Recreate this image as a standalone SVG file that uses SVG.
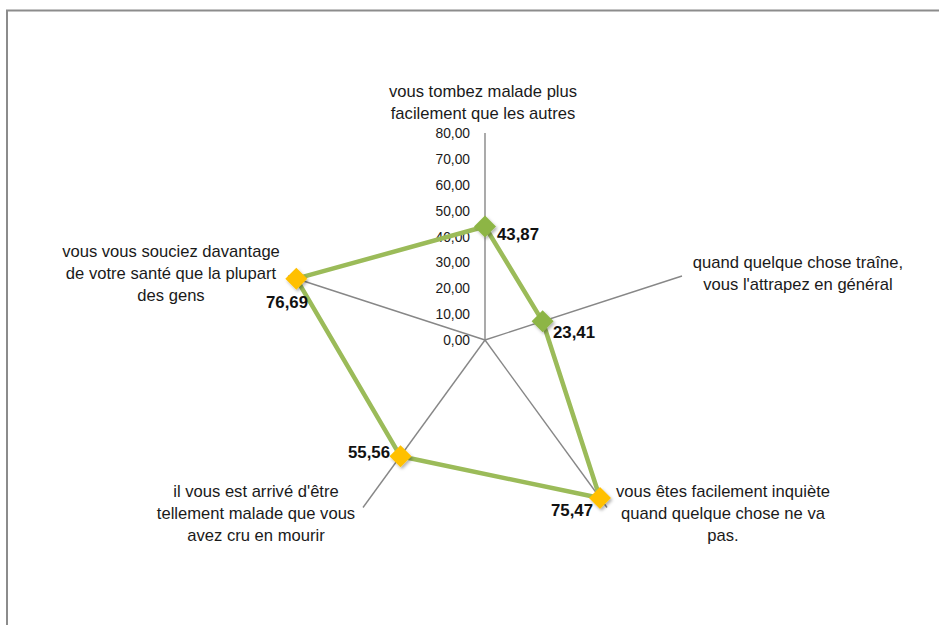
<svg xmlns="http://www.w3.org/2000/svg" width="939" height="625" viewBox="0 0 939 625">
<style>
.lbl{font-family:"Liberation Sans",Arial,sans-serif;font-size:16.6px;fill:#1a1a1a;text-anchor:middle}
.tick{font-family:"Liberation Sans",Arial,sans-serif;font-size:13.8px;fill:#1a1a1a;text-anchor:end}
.val{font-family:"Liberation Sans",Arial,sans-serif;font-size:16.8px;font-weight:bold;fill:#111}
.axis{stroke:#878787;stroke-width:1.4;fill:none}
.series{stroke:#9BBB59;stroke-width:4.5;fill:none;stroke-linejoin:round}
.mg{fill:#8DB545;filter:url(#sh)}
.my{fill:#FFC000;filter:url(#sh)}
</style>
<defs>
<filter id="sh" x="-50%" y="-50%" width="200%" height="200%">
<feDropShadow dx="1.5" dy="2" stdDeviation="1.5" flood-color="#000" flood-opacity="0.3"/>
</filter>
<path id="dia" d="M0,-11 L11,0 L0,11 L-11,0 Z"/>
</defs>
<rect x="0" y="0" width="939" height="625" fill="#fff"/>
<rect x="7" y="10.5" width="1000" height="700" fill="none" stroke="#8c8c8c" stroke-width="2"/>

<g id="axes">
<line class="axis" x1="485" y1="340" x2="485" y2="133"/>
<line class="axis" x1="485" y1="340" x2="682" y2="276"/>
<line class="axis" x1="485" y1="340" x2="607" y2="507.5"/>
<line class="axis" x1="485" y1="340" x2="363" y2="507.5"/>
<line class="axis" x1="485" y1="340" x2="288" y2="276"/>
</g>

<g id="ticks">
<text class="tick" x="470" y="138">80,00</text>
<text class="tick" x="470" y="164">70,00</text>
<text class="tick" x="470" y="190">60,00</text>
<text class="tick" x="470" y="216">50,00</text>
<text class="tick" x="470" y="242">40,00</text>
<text class="tick" x="470" y="267">30,00</text>
<text class="tick" x="470" y="293">20,00</text>
<text class="tick" x="470" y="319">10,00</text>
<text class="tick" x="470" y="345">0,00</text>
</g>

<g id="connectors">
<polygon class="series" points="485,226.5 542.6,321.3 600,498 400.5,456.3 296.3,278.7"/>
</g>

<g id="node-1">
<use href="#dia" class="mg" x="485" y="226.5"/>
<text class="val" x="497" y="240">43,87</text>
<text class="lbl" x="483" y="97">vous tombez malade plus</text>
<text class="lbl" x="483" y="119">facilement que les autres</text>
</g>
<g id="node-2">
<use href="#dia" class="mg" x="542.6" y="321.3"/>
<text class="val" x="553" y="338">23,41</text>
<text class="lbl" x="798" y="268">quand quelque chose traîne,</text>
<text class="lbl" x="798" y="290">vous l'attrapez en général</text>
</g>
<g id="node-3">
<use href="#dia" class="my" x="600" y="498"/>
<text class="val" x="593" y="516" text-anchor="end">75,47</text>
<text class="lbl" x="723" y="497">vous êtes facilement inquiète</text>
<text class="lbl" x="723" y="519">quand quelque chose ne va</text>
<text class="lbl" x="723" y="541">pas.</text>
</g>
<g id="node-4">
<use href="#dia" class="my" x="400.5" y="456.3"/>
<text class="val" x="390" y="458" text-anchor="end">55,56</text>
<text class="lbl" x="256" y="497">il vous est arrivé d'être</text>
<text class="lbl" x="256" y="519">tellement malade que vous</text>
<text class="lbl" x="256" y="541">avez cru en mourir</text>
</g>
<g id="node-5">
<use href="#dia" class="my" x="296.3" y="278.7"/>
<text class="val" x="308" y="308" text-anchor="end">76,69</text>
<text class="lbl" x="171" y="257">vous vous souciez davantage</text>
<text class="lbl" x="171" y="279">de votre santé que la plupart</text>
<text class="lbl" x="171" y="301">des gens</text>
</g>
</svg>
